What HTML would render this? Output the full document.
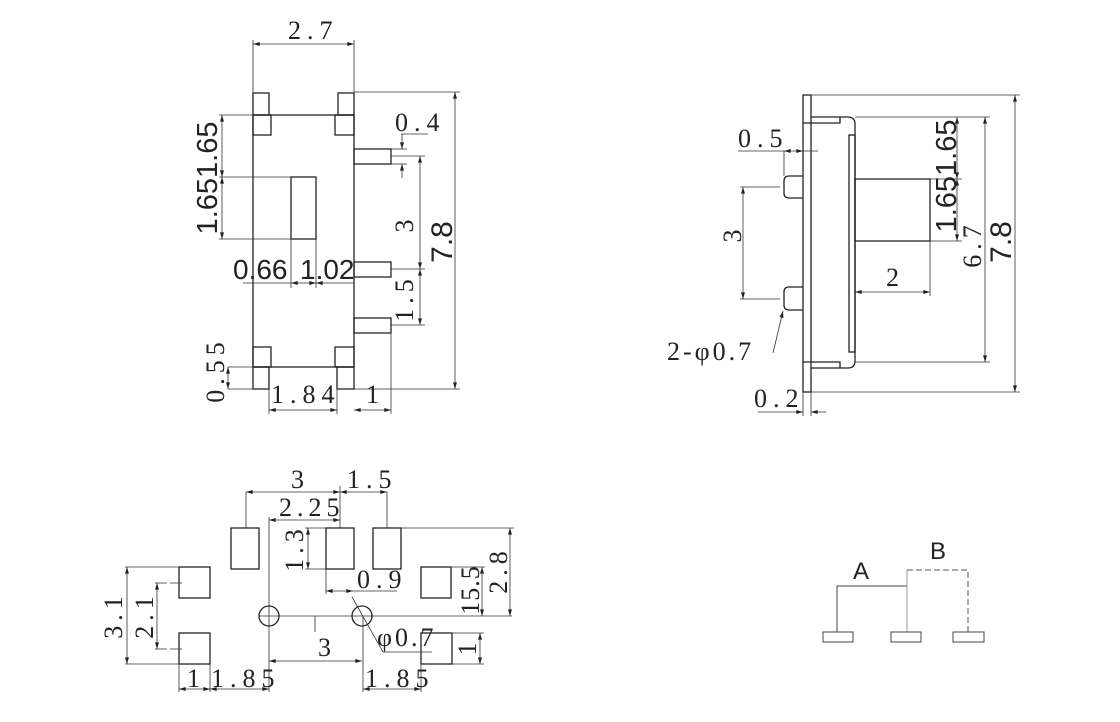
<!DOCTYPE html>
<html><head><meta charset="utf-8"><style>
html,body{margin:0;padding:0;background:#fff;}
svg{display:block;}
.s{font-family:"Liberation Serif",serif;fill:#222;}
.a{font-family:"Liberation Sans",sans-serif;fill:#222;}
</style></head><body>
<svg width="1120" height="722" viewBox="0 0 1120 722" xmlns="http://www.w3.org/2000/svg">
<defs>
<marker id="ar" viewBox="0 0 10 6" refX="10" refY="3" markerWidth="7" markerHeight="4" orient="auto-start-reverse" markerUnits="userSpaceOnUse"><path d="M0,0 L10,3 L0,6z" fill="#222"/></marker>
</defs>
<g fill="none" stroke="#222" stroke-width="1.3">
<rect x="253" y="115" width="101" height="252"/>
<rect x="253" y="93" width="16" height="22"/>
<rect x="253" y="115" width="18" height="20"/>
<rect x="338" y="93" width="16" height="22"/>
<rect x="335" y="115" width="19" height="20"/>
<rect x="253" y="347" width="18" height="20"/>
<rect x="335" y="347" width="19" height="20"/>
<rect x="253" y="367" width="16" height="22"/>
<rect x="337" y="367" width="17" height="22"/>
<rect x="291" y="177" width="25" height="62"/>
<rect x="354" y="149" width="37" height="15"/>
<rect x="354" y="262" width="37" height="15"/>
<rect x="354" y="318" width="37" height="15"/>
</g>
<g fill="none" stroke="#333" stroke-width="0.8">
<line x1="253" y1="40" x2="253" y2="93"/><line x1="354" y1="40" x2="354" y2="93"/>
<line x1="253" y1="44" x2="354" y2="44" marker-start="url(#ar)" marker-end="url(#ar)"/>
<line x1="354" y1="92" x2="460" y2="92"/><line x1="354" y1="389" x2="460" y2="389"/>
<line x1="455" y1="92" x2="455" y2="389" marker-start="url(#ar)" marker-end="url(#ar)"/>
<line x1="219" y1="115" x2="253" y2="115"/><line x1="219" y1="177" x2="291" y2="177"/><line x1="219" y1="239" x2="291" y2="239"/>
<line x1="222" y1="115" x2="222" y2="177" marker-start="url(#ar)" marker-end="url(#ar)"/>
<line x1="222" y1="177" x2="222" y2="239" marker-start="url(#ar)" marker-end="url(#ar)"/>
<line x1="291" y1="239" x2="291" y2="288"/><line x1="316" y1="239" x2="316" y2="288"/>
<line x1="243" y1="283" x2="291" y2="283"/>
<line x1="291" y1="283" x2="316" y2="283" marker-start="url(#ar)" marker-end="url(#ar)"/>
<line x1="316" y1="283" x2="354" y2="283" marker-start="url(#ar)"/>
<line x1="401" y1="134" x2="428" y2="134"/>
<line x1="402" y1="134" x2="402" y2="149" marker-end="url(#ar)"/>
<line x1="402" y1="164" x2="402" y2="178" marker-start="url(#ar)"/>
<line x1="391" y1="149" x2="407" y2="149"/><line x1="391" y1="164" x2="407" y2="164"/>
<line x1="391" y1="156" x2="425" y2="156"/><line x1="391" y1="269" x2="425" y2="269"/><line x1="391" y1="325" x2="425" y2="325"/>
<line x1="420" y1="156" x2="420" y2="269" marker-start="url(#ar)" marker-end="url(#ar)"/>
<line x1="420" y1="269" x2="420" y2="325" marker-start="url(#ar)" marker-end="url(#ar)"/>
<line x1="228" y1="367" x2="253" y2="367"/><line x1="228" y1="389" x2="253" y2="389"/>
<line x1="228" y1="367" x2="228" y2="389" marker-start="url(#ar)" marker-end="url(#ar)"/>
<line x1="269" y1="389" x2="269" y2="414"/><line x1="337" y1="389" x2="337" y2="414"/><line x1="391" y1="333" x2="391" y2="414"/>
<line x1="269" y1="410" x2="337" y2="410" marker-start="url(#ar)" marker-end="url(#ar)"/>
<line x1="354" y1="410" x2="391" y2="410" marker-start="url(#ar)" marker-end="url(#ar)"/>
</g>
<text class="s" x="288" y="39" font-size="26" letter-spacing="6">2.7</text>
<text class="a" transform="translate(452,242) rotate(-90)" text-anchor="middle" font-size="30">7.8</text>
<text class="a" transform="translate(217,178) rotate(-90)" text-anchor="middle" font-size="29">1.651.65</text>
<text class="a" x="233" y="279" font-size="28">0.66</text>
<text class="a" x="300" y="279" font-size="28">1.02</text>
<text class="s" x="395" y="131" font-size="26" letter-spacing="6">0.4</text>
<text class="s" transform="translate(413,226) rotate(-90)" text-anchor="middle" font-size="26">3</text>
<text class="s" transform="translate(413,298) rotate(-90)" text-anchor="middle" font-size="26" letter-spacing="5">1.5</text>
<text class="s" transform="translate(224,370) rotate(-90)" text-anchor="middle" font-size="26" letter-spacing="5">0.55</text>
<text class="s" x="271" y="403" font-size="26" letter-spacing="6">1.84</text>
<text class="s" x="366" y="403" font-size="26">1</text>

<g fill="none" stroke="#222" stroke-width="1.3">
<rect x="803" y="95" width="8" height="297"/>
<path d="M811,117 H848 Q855,117 855,124 V361 Q855,368 848,368 H811"/>
<path d="M803,123 H840 V117 M803,362 H840 V368"/>
<rect x="849" y="135" width="6" height="217"/>
<rect x="855" y="179" width="75" height="62"/>
<path d="M803,176 H789 Q784,176 784,181 V193 Q784,198 789,198 H803"/>
<path d="M803,287 H789 Q784,287 784,292 V305 Q784,310 789,310 H803"/>
</g>
<g fill="none" stroke="#333" stroke-width="0.8">
<line x1="738" y1="151" x2="784" y2="151"/>
<line x1="784" y1="151" x2="803" y2="151" marker-start="url(#ar)" marker-end="url(#ar)"/>
<line x1="803" y1="151" x2="818" y2="151"/>
<line x1="784" y1="151" x2="784" y2="176"/>
<line x1="740" y1="187" x2="780" y2="187"/><line x1="740" y1="299" x2="780" y2="299"/>
<line x1="743" y1="187" x2="743" y2="299" marker-start="url(#ar)" marker-end="url(#ar)"/>
<line x1="773" y1="353" x2="783" y2="311" marker-end="url(#ar)"/>
<line x1="930" y1="241" x2="930" y2="296"/>
<line x1="855" y1="292" x2="930" y2="292" marker-start="url(#ar)" marker-end="url(#ar)"/>
<line x1="855" y1="117" x2="990" y2="117"/><line x1="930" y1="179" x2="962" y2="179"/><line x1="930" y1="241" x2="962" y2="241"/>
<line x1="957" y1="117" x2="957" y2="179" marker-start="url(#ar)" marker-end="url(#ar)"/>
<line x1="957" y1="179" x2="957" y2="241" marker-start="url(#ar)" marker-end="url(#ar)"/>
<line x1="855" y1="362" x2="990" y2="362"/>
<line x1="985" y1="117" x2="985" y2="362" marker-start="url(#ar)" marker-end="url(#ar)"/>
<line x1="811" y1="95" x2="1020" y2="95"/><line x1="811" y1="392" x2="1020" y2="392"/>
<line x1="1015" y1="95" x2="1015" y2="392" marker-start="url(#ar)" marker-end="url(#ar)"/>
<line x1="803" y1="392" x2="803" y2="416"/><line x1="811" y1="392" x2="811" y2="416"/>
<line x1="758" y1="412" x2="803" y2="412" marker-end="url(#ar)"/>
<line x1="811" y1="412" x2="826" y2="412" marker-start="url(#ar)"/>
</g>
<text class="s" x="738" y="147" font-size="26" letter-spacing="6">0.5</text>
<text class="s" transform="translate(741,236) rotate(-90)" text-anchor="middle" font-size="26">3</text>
<text class="s" x="667" y="360" font-size="26" letter-spacing="3">2-φ0.7</text>
<text class="s" x="886" y="286" font-size="26">2</text>
<text class="a" transform="translate(956,176) rotate(-90)" text-anchor="middle" font-size="29">1.651.65</text>
<text class="s" transform="translate(981,244) rotate(-90)" text-anchor="middle" font-size="26" letter-spacing="5">6.7</text>
<text class="a" transform="translate(1011,242) rotate(-90)" text-anchor="middle" font-size="30">7.8</text>
<text class="s" x="754" y="407" font-size="26" letter-spacing="6">0.2</text>

<g fill="none" stroke="#222" stroke-width="1.3">
<rect x="179" y="567" width="31" height="31"/>
<rect x="179" y="633" width="31" height="31"/>
<rect x="231" y="528" width="28" height="41"/>
<rect x="326" y="528" width="28" height="41"/>
<rect x="373" y="528" width="28" height="41"/>
<rect x="421" y="567" width="30" height="31"/>
<rect x="421" y="633" width="31" height="31"/>
<circle cx="269" cy="616" r="10"/>
<circle cx="362" cy="616" r="10"/>
</g>
<g fill="none" stroke="#333" stroke-width="0.8">
<line x1="269" y1="517" x2="269" y2="692"/>
<line x1="259" y1="616" x2="512" y2="616"/>
<line x1="363" y1="616" x2="363" y2="692"/>
<line x1="246" y1="492" x2="246" y2="528"/><line x1="387" y1="492" x2="387" y2="528"/><line x1="340" y1="486" x2="340" y2="528"/>
<line x1="246" y1="492" x2="340" y2="492" marker-start="url(#ar)" marker-end="url(#ar)"/>
<line x1="340" y1="492" x2="387" y2="492" marker-start="url(#ar)" marker-end="url(#ar)"/>
<line x1="269" y1="520" x2="340" y2="520" marker-start="url(#ar)" marker-end="url(#ar)"/>
<line x1="305" y1="528" x2="326" y2="528"/><line x1="305" y1="569" x2="326" y2="569"/>
<line x1="308" y1="528" x2="308" y2="569" marker-start="url(#ar)" marker-end="url(#ar)"/>
<line x1="326" y1="569" x2="326" y2="594"/>
<line x1="326" y1="591" x2="353" y2="591" marker-start="url(#ar)" marker-end="url(#ar)"/>
<line x1="353" y1="591" x2="397" y2="591"/>
<line x1="401" y1="528" x2="514" y2="528"/>
<line x1="510" y1="528" x2="510" y2="616" marker-start="url(#ar)" marker-end="url(#ar)"/>
<line x1="451" y1="567" x2="485" y2="567"/>
<line x1="482" y1="567" x2="482" y2="616" marker-start="url(#ar)" marker-end="url(#ar)"/>
<polyline points="352,597 383,652 432,652"/>
<line x1="315" y1="616" x2="315" y2="632"/>
<line x1="269" y1="661" x2="362" y2="661" marker-start="url(#ar)" marker-end="url(#ar)"/>
<line x1="451" y1="633" x2="484" y2="633"/><line x1="451" y1="664" x2="484" y2="664"/>
<line x1="480" y1="633" x2="480" y2="664" marker-start="url(#ar)" marker-end="url(#ar)"/>
<line x1="125" y1="567" x2="179" y2="567"/><line x1="125" y1="664" x2="179" y2="664"/>
<line x1="127" y1="567" x2="127" y2="664" marker-start="url(#ar)" marker-end="url(#ar)"/>
<line x1="155" y1="583" x2="182" y2="583" stroke-dasharray="12,3"/><line x1="155" y1="649" x2="182" y2="649" stroke-dasharray="12,3"/>
<line x1="157" y1="583" x2="157" y2="649" marker-start="url(#ar)" marker-end="url(#ar)"/>
<line x1="179" y1="664" x2="179" y2="692"/><line x1="210" y1="664" x2="210" y2="692"/><line x1="421" y1="664" x2="421" y2="692"/>
<line x1="179" y1="689" x2="210" y2="689" marker-start="url(#ar)" marker-end="url(#ar)"/>
<line x1="210" y1="689" x2="269" y2="689" marker-start="url(#ar)" marker-end="url(#ar)"/>
<line x1="363" y1="689" x2="421" y2="689" marker-start="url(#ar)" marker-end="url(#ar)"/>
</g>
<text class="s" x="291" y="488" font-size="26">3</text>
<text class="s" x="347" y="488" font-size="26" letter-spacing="6">1.5</text>
<text class="s" x="279" y="516" font-size="26" letter-spacing="5">2.25</text>
<text class="s" transform="translate(303,548) rotate(-90)" text-anchor="middle" font-size="26" letter-spacing="5">1.3</text>
<text class="s" x="357" y="588" font-size="26" letter-spacing="6">0.9</text>
<text class="s" transform="translate(507,570) rotate(-90)" text-anchor="middle" font-size="26" letter-spacing="5">2.8</text>
<text class="s" transform="translate(479,590) rotate(-90)" text-anchor="middle" font-size="26" letter-spacing="1">15.5</text>
<text class="s" x="377" y="646" font-size="26" letter-spacing="3">φ0.7</text>
<text class="s" x="318" y="656" font-size="26">3</text>
<text class="s" transform="translate(476,649) rotate(-90)" text-anchor="middle" font-size="26">1</text>
<text class="s" transform="translate(122,615) rotate(-90)" text-anchor="middle" font-size="26" letter-spacing="5">3.1</text>
<text class="s" transform="translate(153,615) rotate(-90)" text-anchor="middle" font-size="26" letter-spacing="5">2.1</text>
<text class="s" x="187" y="687" font-size="26">1</text>
<text class="s" x="211" y="687" font-size="26" letter-spacing="6">1.85</text>
<text class="s" x="365" y="687" font-size="26" letter-spacing="6">1.85</text>

<g fill="none" stroke-width="1">
<polyline points="837,632 837,586 907,586" stroke="#444"/>
<line x1="907" y1="570" x2="907" y2="632" stroke="#999"/>
<polyline points="907,570 968,570 968,632" stroke="#555" stroke-dasharray="6,3"/>
<rect x="823" y="632" width="30" height="10" stroke="#444"/>
<rect x="891" y="632" width="30" height="10" stroke="#444"/>
<rect x="953" y="632" width="31" height="10" stroke="#444"/>
</g>
<text class="a" x="853" y="579" font-size="24">A</text>
<text class="a" x="930" y="559" font-size="24">B</text>
</svg>
</body></html>
